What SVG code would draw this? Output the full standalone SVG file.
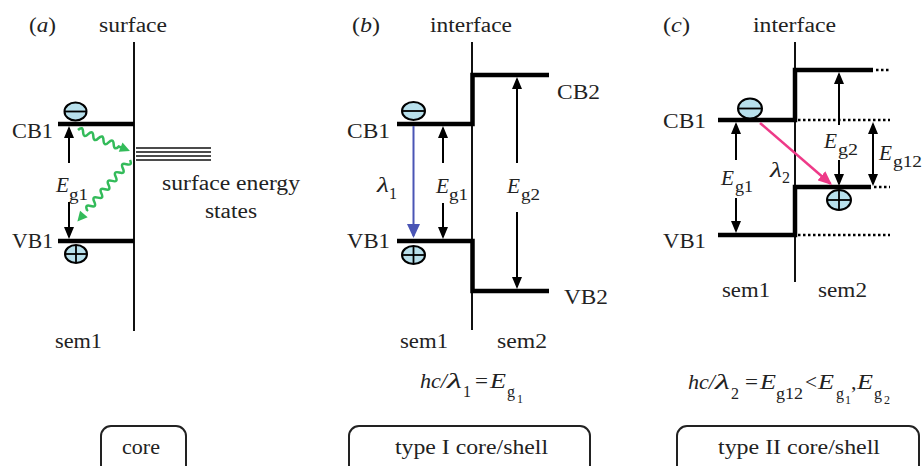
<svg xmlns="http://www.w3.org/2000/svg" width="924" height="466" viewBox="0 0 924 466">
<defs>
<style>
.t{font-family:"Liberation Serif","Times New Roman",Times,serif;font-size:20px;fill:#222}
.f{font-family:"Liberation Serif","Times New Roman",Times,serif;font-size:22px;fill:#222}
.i{font-style:italic}
.s{font-size:16px}
.ss{font-size:12px}
.thin{stroke:#111;stroke-width:2;fill:none}
.band{stroke:#000;stroke-width:4.5;fill:none;stroke-linejoin:miter}
.dot{stroke:#000;stroke-width:2.5;stroke-dasharray:2.5 2.5;fill:none}
.arr{stroke:#000;stroke-width:2;fill:none}
.box{stroke:#222;stroke-width:2;fill:none}
.car{fill:#b8e0ec;stroke:#000;stroke-width:2}
.sign{stroke:#000;stroke-width:1.8}
.wave{stroke:#33bb5a;stroke-width:2.5;fill:none}
</style>
<marker id="ah" viewBox="0 0 12 10" refX="10" refY="5" markerWidth="12" markerHeight="10" markerUnits="userSpaceOnUse" orient="auto-start-reverse"><path d="M0,0 L12,5 L0,10 z" fill="#000"/></marker>
<marker id="ahb" viewBox="0 0 14 13" refX="12" refY="6.5" markerWidth="14" markerHeight="13" markerUnits="userSpaceOnUse" orient="auto"><path d="M0,0 L14,6.5 L0,13 z" fill="#4a55b5"/></marker>
<marker id="ahp" viewBox="0 0 14 12" refX="12" refY="6" markerWidth="14" markerHeight="12" markerUnits="userSpaceOnUse" orient="auto"><path d="M0,0 L14,6 L0,12 z" fill="#ee3a88"/></marker>
</defs>
<rect width="924" height="466" fill="#fff"/>

<!-- Panel (a) -->
<g id="panel-a">
<text class="t" x="29" y="32" textLength="27" lengthAdjust="spacingAndGlyphs">(<tspan class="i">a</tspan>)</text>
<text class="t" x="99" y="32" textLength="68" lengthAdjust="spacingAndGlyphs">surface</text>
<line class="thin" x1="134" y1="42" x2="134" y2="331"/>
</g>
<g id="a-cb1"><path class="band" d="M58,124 H134"/><text class="t" x="12" y="138" textLength="41" lengthAdjust="spacingAndGlyphs">CB1</text></g>
<g id="a-vb1"><path class="band" d="M58,241 H134"/><text class="t" x="12" y="248" textLength="41" lengthAdjust="spacingAndGlyphs">VB1</text></g>
<g id="a-electron"><ellipse class="car" cx="75.5" cy="111.5" rx="11" ry="9"/><line class="sign" x1="64.5" y1="111.5" x2="86.5" y2="111.5"/></g>
<g id="a-hole"><ellipse class="car" cx="76" cy="254" rx="11" ry="9"/><line class="sign" x1="65" y1="254" x2="87" y2="254"/><line class="sign" x1="76" y1="245" x2="76" y2="263"/></g>
<g id="a-states">
<path d="M136,148 H211 M136,152 H211 M136,156 H211 M136,160 H211" stroke="#111" stroke-width="1.6"/>
<text class="t" x="162" y="190" textLength="138" lengthAdjust="spacingAndGlyphs">surface energy</text>
<text class="t" x="205" y="218" textLength="52" lengthAdjust="spacingAndGlyphs">states</text>
</g>
<g id="a-labels">
<text class="t i" x="56" y="192" textLength="13" lengthAdjust="spacingAndGlyphs">E</text><text class="t s" x="69" y="200" textLength="19" lengthAdjust="spacingAndGlyphs">g1</text>
<text class="t" x="55" y="348" textLength="47" lengthAdjust="spacingAndGlyphs">sem1</text>
</g>
<g id="a-core"><rect class="box" x="101" y="426" width="85" height="52" rx="10"/><text class="t" x="122" y="454" textLength="38" lengthAdjust="spacingAndGlyphs">core</text></g>

<!-- Panel (b) -->
<g id="panel-b">
<text class="t" x="352" y="32" textLength="28" lengthAdjust="spacingAndGlyphs">(<tspan class="i">b</tspan>)</text>
<text class="t" x="430" y="32" textLength="82" lengthAdjust="spacingAndGlyphs">interface</text>
<line class="thin" x1="472" y1="42" x2="472" y2="330"/>
</g>
<g id="b-cb"><path class="band" d="M397,124 H472.5 V75 H549"/>
<text class="t" x="347" y="138" textLength="43" lengthAdjust="spacingAndGlyphs">CB1</text>
<text class="t" x="557" y="99" textLength="43" lengthAdjust="spacingAndGlyphs">CB2</text></g>
<g id="b-vb"><path class="band" d="M397,241 H472.5 V291 H549"/>
<text class="t" x="347" y="248" textLength="43" lengthAdjust="spacingAndGlyphs">VB1</text>
<text class="t" x="564" y="304" textLength="44" lengthAdjust="spacingAndGlyphs">VB2</text></g>
<g id="b-electron"><ellipse class="car" cx="413.5" cy="111" rx="11.5" ry="9"/><line class="sign" x1="402" y1="111" x2="425" y2="111"/></g>
<g id="b-hole"><ellipse class="car" cx="413.5" cy="255" rx="11.5" ry="9"/><line class="sign" x1="402" y1="255" x2="425" y2="255"/><line class="sign" x1="413.5" y1="246" x2="413.5" y2="264"/></g>
<g id="b-labels">
<text class="t i" x="377" y="192" textLength="12" lengthAdjust="spacingAndGlyphs">λ</text><text class="t s" x="389" y="199">1</text>
<text class="t i" x="436" y="193" textLength="13" lengthAdjust="spacingAndGlyphs">E</text><text class="t s" x="449" y="200" textLength="19" lengthAdjust="spacingAndGlyphs">g1</text>
<text class="t i" x="507" y="193" textLength="13" lengthAdjust="spacingAndGlyphs">E</text><text class="t s" x="521" y="200" textLength="19" lengthAdjust="spacingAndGlyphs">g2</text>
<text class="t" x="400" y="348" textLength="48" lengthAdjust="spacingAndGlyphs">sem1</text>
<text class="t" x="497" y="348" textLength="50" lengthAdjust="spacingAndGlyphs">sem2</text>
</g>
<g id="b-formula">
<text class="f i" x="420" y="388" textLength="27" lengthAdjust="spacingAndGlyphs">hc/</text>
<text class="f i" x="447" y="388" textLength="15" lengthAdjust="spacingAndGlyphs">λ</text>
<text class="f s" x="463" y="397">1</text>
<text class="f" x="475" y="388" textLength="13" lengthAdjust="spacingAndGlyphs">=</text>
<text class="f i" x="490" y="388" textLength="16" lengthAdjust="spacingAndGlyphs">E</text>
<text class="f s" x="507" y="397">g</text>
<text class="f ss" x="517" y="403">1</text>
</g>
<g id="b-box"><rect class="box" x="349" y="426" width="241" height="52" rx="10"/><text class="t" x="395" y="454" textLength="153" lengthAdjust="spacingAndGlyphs">type I core/shell</text></g>

<!-- Panel (c) -->
<g id="panel-c">
<text class="t" x="663" y="32" textLength="27" lengthAdjust="spacingAndGlyphs">(<tspan class="i">c</tspan>)</text>
<text class="t" x="753" y="32" textLength="83" lengthAdjust="spacingAndGlyphs">interface</text>
<line class="thin" x1="795" y1="42" x2="795" y2="282"/>
</g>
<g id="c-cb"><path class="band" d="M718,120 H795 V70 H873"/>
<path class="dot" d="M876,70 H890 M798,120 H890"/>
<text class="t" x="663" y="128" textLength="43" lengthAdjust="spacingAndGlyphs">CB1</text></g>
<g id="c-vb"><path class="band" d="M871,187 H795 V235 H718"/>
<path class="dot" d="M874,187 H890 M798,235 H890"/>
<text class="t" x="663" y="248" textLength="43" lengthAdjust="spacingAndGlyphs">VB1</text></g>
<g id="c-electron"><ellipse class="car" cx="750" cy="108.5" rx="12" ry="10"/><line class="sign" x1="738" y1="108.5" x2="762" y2="108.5"/></g>
<g id="c-hole"><ellipse class="car" cx="839" cy="200" rx="12" ry="10"/><line class="sign" x1="827" y1="200" x2="851" y2="200"/><line class="sign" x1="839" y1="190" x2="839" y2="210"/></g>
<g id="c-labels">
<text class="t i" x="721" y="185" textLength="13" lengthAdjust="spacingAndGlyphs">E</text><text class="t s" x="735" y="192" textLength="18" lengthAdjust="spacingAndGlyphs">g1</text>
<text class="t i" x="770" y="177" textLength="12" lengthAdjust="spacingAndGlyphs">λ</text><text class="t s" x="782" y="183">2</text>
<text class="t i" x="824" y="148" textLength="13" lengthAdjust="spacingAndGlyphs">E</text><text class="t s" x="838" y="155" textLength="20" lengthAdjust="spacingAndGlyphs">g2</text>
<text class="t i" x="879" y="160" textLength="13" lengthAdjust="spacingAndGlyphs">E</text><text class="t s" x="893" y="167" textLength="29" lengthAdjust="spacingAndGlyphs">g12</text>
<text class="t" x="722" y="297" textLength="48" lengthAdjust="spacingAndGlyphs">sem1</text>
<text class="t" x="818" y="297" textLength="49" lengthAdjust="spacingAndGlyphs">sem2</text>
</g>
<g id="c-formula">
<text class="f i" x="688" y="389" textLength="27" lengthAdjust="spacingAndGlyphs">hc/</text>
<text class="f i" x="715" y="389" textLength="15" lengthAdjust="spacingAndGlyphs">λ</text>
<text class="f s" x="731" y="399">2</text>
<text class="f" x="745" y="389" textLength="13" lengthAdjust="spacingAndGlyphs">=</text>
<text class="f i" x="760" y="389" textLength="16" lengthAdjust="spacingAndGlyphs">E</text>
<text class="f s" x="776" y="399" textLength="27" lengthAdjust="spacingAndGlyphs">g12</text>
<text class="f" x="805" y="389" textLength="12" lengthAdjust="spacingAndGlyphs">&lt;</text>
<text class="f i" x="818" y="389" textLength="16" lengthAdjust="spacingAndGlyphs">E</text>
<text class="f s" x="836" y="399">g</text>
<text class="f ss" x="845" y="404">1</text>
<text class="f" x="851" y="389">,</text>
<text class="f i" x="857" y="389" textLength="16" lengthAdjust="spacingAndGlyphs">E</text>
<text class="f s" x="874" y="399">g</text>
<text class="f ss" x="884" y="404">2</text>
</g>
<g id="c-box"><rect class="box" x="677" y="426" width="242" height="52" rx="10"/><text class="t" x="718" y="454" textLength="162" lengthAdjust="spacingAndGlyphs">type II core/shell</text></g>

<!-- Connectors -->
<g id="connectors">
<line class="arr" x1="69" y1="163" x2="69" y2="128" marker-end="url(#ah)"/>
<line class="arr" x1="69" y1="202" x2="69" y2="237" marker-end="url(#ah)"/>
<g transform="translate(78,130) rotate(22)">
<path class="wave" d="M0,0 q2.75,-6 5.5,0 t5.5,0 t5.5,0 t5.5,0 t5.5,0 t5.5,0 t5.5,0 t5.5,0 l3,0"/>
<path d="M46,-5 L56,0 L46,5 z" fill="#33bb5a"/>
</g>
<g transform="translate(130,160) rotate(130.5)">
<path class="wave" d="M0,0 q2.75,-6 5.5,0 t5.5,0 t5.5,0 t5.5,0 t5.5,0 t5.5,0 t5.5,0 t5.5,0 t5.5,0 t5.5,0 t5.5,0 t5.5,0 l1,0"/>
<path d="M71,-5 L81,0 L71,5 z" fill="#33bb5a"/>
</g>
<line x1="413.5" y1="126" x2="413.5" y2="236" stroke="#4a55b5" stroke-width="2" marker-end="url(#ahb)"/>
<line class="arr" x1="443" y1="163" x2="443" y2="128" marker-end="url(#ah)"/>
<line class="arr" x1="443" y1="203" x2="443" y2="237" marker-end="url(#ah)"/>
<line class="arr" x1="517" y1="163" x2="517" y2="79" marker-end="url(#ah)"/>
<line class="arr" x1="517" y1="212" x2="517" y2="287" marker-end="url(#ah)"/>
<line class="arr" x1="736" y1="160" x2="736" y2="124" marker-end="url(#ah)"/>
<line class="arr" x1="736" y1="198" x2="736" y2="231" marker-end="url(#ah)"/>
<line class="arr" x1="839" y1="125" x2="839" y2="74" marker-end="url(#ah)"/>
<line class="arr" x1="839" y1="160" x2="839" y2="184" marker-end="url(#ah)"/>
<line class="arr" x1="873" y1="124" x2="873" y2="184" marker-start="url(#ah)" marker-end="url(#ah)"/>
<line x1="760" y1="123" x2="830.5" y2="183.7" stroke="#ee3a88" stroke-width="2.5" marker-end="url(#ahp)"/>
</g>
</svg>
